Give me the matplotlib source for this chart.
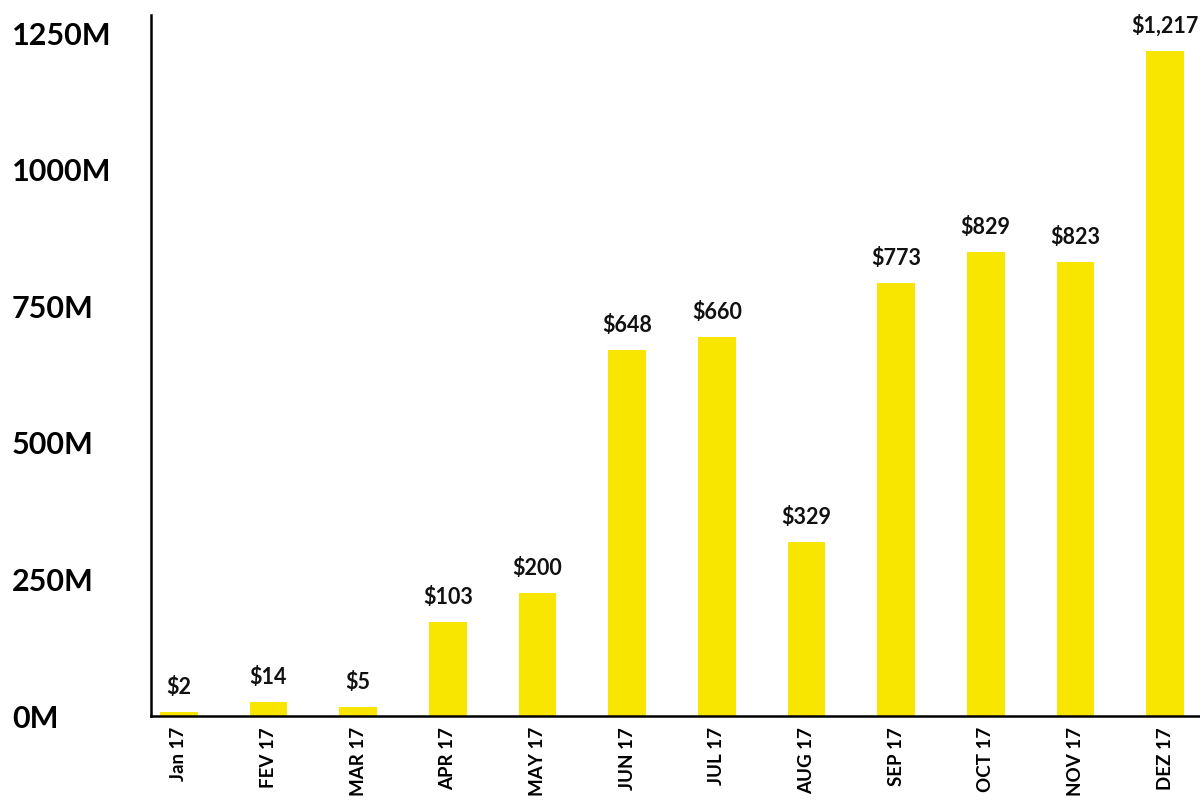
import matplotlib.pyplot as plt

months = ["Jan 17", "FEV 17", "MAR 17", "APR 17", "MAY 17", "JUN 17",
          "JUL 17", "AUG 17", "SEP 17", "OCT 17", "NOV 17", "DEZ 17"]
# bar heights as drawn (M)
heights = [7, 26, 16, 172, 225, 670, 694, 318, 792, 849, 831, 1217]
# value labels printed over the bars
labels = ["$2", "$14", "$5", "$103", "$200", "$648",
          "$660", "$329", "$773", "$829", "$823", "$1,217"]
yticks = [0, 250, 500, 750, 1000, 1250]

plt.rcParams['font.family'] = ['Lato', 'DejaVu Sans']

fig = plt.figure(figsize=(12, 8.01), dpi=100)
ax = fig.add_axes([151 / 1200, 85 / 801, 1 - 151 / 1200, 1 - 15 / 801 - 85 / 801])

x = range(len(months))
bars = ax.bar(x, heights, width=0.42, color="#F8E600")

for b, lab in zip(bars, labels):
    ax.annotate(lab, (b.get_x() + b.get_width() / 2, b.get_height()),
                xytext=(0, 10), textcoords="offset points",
                ha="center", va="bottom", fontsize=15.5, fontweight="bold",
                color="#111111")

ax.set_xlim(-0.31, 11.39)
ax.set_ylim(0, 1283)
ax.set_xticks(list(x))
ax.set_xticklabels(months, rotation=90, fontsize=13.5, fontweight="bold", va="top")
ax.set_yticks(yticks)
ax.set_yticklabels([f"{v}M" for v in yticks], fontsize=22, fontweight="bold", ha="left")
ax.tick_params(axis="y", length=0, pad=100)
ax.tick_params(axis="x", length=0, pad=8)

for s in ["top", "right"]:
    ax.spines[s].set_visible(False)
ax.spines["left"].set_linewidth(1.8)
ax.spines["bottom"].set_linewidth(1.8)

fig.savefig("out.png", dpi=100)
